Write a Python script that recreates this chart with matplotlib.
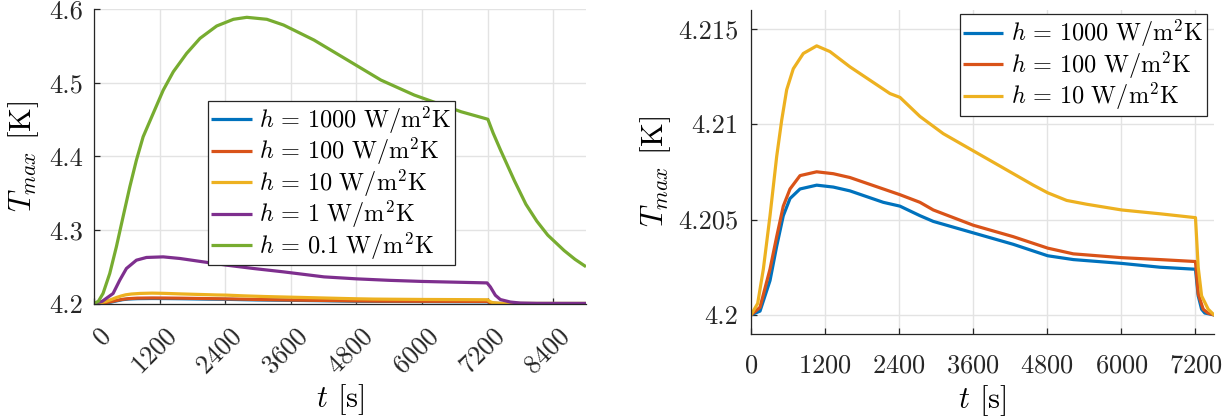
import matplotlib
matplotlib.use("Agg")
import matplotlib.pyplot as plt
from matplotlib.transforms import ScaledTranslation

# ---- data -------------------------------------------------------------
# h = 1000 W/m^2K
t_1000 = [0, 146, 308, 416, 523, 632, 794, 1064, 1333, 1603, 2143, 2413,
          2737, 2953, 3600, 4248, 4806, 5221, 6004, 6624, 7163, 7200, 7244,
          7299, 7350, 7500, 9000]
T_1000 = [4.2, 4.2002, 4.2018, 4.2036, 4.2052, 4.2061, 4.2066, 4.2068,
          4.2067, 4.2065, 4.2059, 4.2057, 4.2052, 4.2049, 4.2043, 4.2037,
          4.2031, 4.2029, 4.2027, 4.2025, 4.2024, 4.2024, 4.2010, 4.2003,
          4.2001, 4.2, 4.2]

# h = 100 W/m^2K
t_100 = [0, 146, 308, 416, 523, 632, 794, 1064, 1333, 1603, 2143, 2413,
         2737, 2953, 3600, 4248, 4806, 5221, 6004, 6624, 7190, 7200, 7244,
         7325, 7400, 7500, 9000]
T_100 = [4.2, 4.2004, 4.2024, 4.2041, 4.2057, 4.2066, 4.2073, 4.2075,
         4.2074, 4.2072, 4.2066, 4.2063, 4.2059, 4.2055, 4.2047, 4.2041,
         4.2035, 4.2032, 4.2030, 4.2029, 4.2028, 4.2028, 4.2011, 4.2003,
         4.2001, 4.2, 4.2]

# h = 10 W/m^2K
t_10 = [0, 108, 200, 308, 416, 497, 578, 685, 847, 1064, 1279, 1603, 1927,
        2251, 2413, 2737, 3114, 3600, 3925, 4303, 4573, 4806, 5113, 5437,
        6004, 6624, 7190, 7200, 7244, 7299, 7406, 7500, 9000]
T_10 = [4.2, 4.2006, 4.2024, 4.2052, 4.2083, 4.2102, 4.2118, 4.2129,
        4.2137, 4.2141, 4.2138, 4.2130, 4.2123, 4.2116, 4.2114, 4.2104,
        4.2095, 4.2086, 4.2080, 4.2073, 4.2068, 4.2064, 4.2060, 4.2058,
        4.2055, 4.2053, 4.2051, 4.2051, 4.2025, 4.2010, 4.2003, 4.2, 4.2]

# h = 1 W/m^2K
t_1 = [0, 150, 349, 471, 593, 776, 960, 1266, 1572, 2000, 2428, 2917,
       3468, 4207, 4805, 5400, 6000, 6600, 7190, 7250, 7342, 7433, 7616,
       7800, 8100, 9000]
T_1 = [4.2, 4.203, 4.2136, 4.2317, 4.2476, 4.2589, 4.2626, 4.2634, 4.2612,
       4.2566, 4.2521, 4.2476, 4.2430, 4.2362, 4.2335, 4.2315, 4.2300,
       4.2290, 4.2280, 4.2226, 4.2112, 4.2054, 4.2020, 4.2006, 4.2001, 4.2]

# h = 0.1 W/m^2K
t_01 = [0, 80, 165, 288, 409, 532, 655, 776, 899, 1083, 1266, 1450, 1694,
        1939, 2244, 2550, 2795, 3162, 3468, 4024, 4637, 5248, 5858, 6288,
        6716, 7205, 7300, 7440, 7690, 7900, 8100, 8300, 8600, 8800, 9000]
T_01 = [4.2, 4.203, 4.2136, 4.2408, 4.277, 4.318, 4.3586, 4.395, 4.4267,
        4.4585, 4.490, 4.515, 4.540, 4.5605, 4.5773, 4.5864, 4.5891, 4.5864,
        4.5786, 4.5582, 4.531, 4.5038, 4.4834, 4.472, 4.4607, 4.4505, 4.432,
        4.408, 4.367, 4.335, 4.312, 4.293, 4.272, 4.260, 4.250]

labels = [r'$h\,=\,1000~\mathrm{W/m^2K}$', r'$h\,=\,100~\mathrm{W/m^2K}$',
          r'$h\,=\,10~\mathrm{W/m^2K}$', r'$h\,=\,1~\mathrm{W/m^2K}$',
          r'$h\,=\,0.1~\mathrm{W/m^2K}$']
colors = ['#0072BD', '#D95319', '#EDB120', '#7E2F8E', '#77AC30']

xticks_left = [0, 1200, 2400, 3600, 4800, 6000, 7200, 8400]
yticks_left = [4.2, 4.3, 4.4, 4.5, 4.6]
yticklabels_left = ['4.2', '4.3', '4.4', '4.5', '4.6']
xticks_right = [0, 1200, 2400, 3600, 4800, 6000, 7200]
yticks_right = [4.2, 4.205, 4.21, 4.215]
yticklabels_right = ['4.2', '4.205', '4.21', '4.215']

# ---- style ------------------------------------------------------------
plt.rcParams.update({
    'font.family': 'serif',
    'font.serif': ['cmr10'],
    'mathtext.fontset': 'cm',
    'axes.formatter.use_mathtext': True,
    'axes.unicode_minus': False,
})
axis_col = '#262626'
grid_col = '#e3e3e3'
lw = 2.3
tick_fs = 19
leg_fs = 17.5
lab_fs = 22

fig = plt.figure(figsize=(12.32, 4.19), dpi=100)
W, H = 1232, 419
axL = fig.add_axes([94 / W, (H - 303.5) / H, (586 - 94) / W, (303.5 - 9.3) / H])
axR = fig.add_axes([751 / W, (H - 334) / H, (1214 - 751) / W, (334 - 9.6) / H])


def style(ax):
    for s in ('top', 'right'):
        ax.spines[s].set_visible(False)
    for s in ('left', 'bottom'):
        ax.spines[s].set_color(axis_col)
        ax.spines[s].set_linewidth(0.9)
    ax.grid(True, color=grid_col, linewidth=1.0)
    ax.set_axisbelow(True)
    ax.tick_params(direction='in', length=4, width=0.9, color=axis_col,
                   labelcolor=axis_col, labelsize=tick_fs)


def legend(ax, anchor):
    leg = ax.legend(loc='upper left', bbox_to_anchor=anchor, borderaxespad=0,
                    fontsize=leg_fs, frameon=True, fancybox=False,
                    edgecolor=axis_col, framealpha=1, handlelength=1.65,
                    handletextpad=0.3, labelspacing=0.0, borderpad=0.14)
    leg.get_frame().set_linewidth(0.9)
    return leg


# ---- left panel -------------------------------------------------------
series_left = [(t_1000, T_1000), (t_100, T_100), (t_10, T_10), (t_1, T_1),
               (t_01, T_01)]
for (tt, TT), c, lab in zip(series_left, colors, labels):
    axL.plot(tt, TT, color=c, lw=lw, label=lab, solid_capstyle='butt')
style(axL)
axL.set_xlim(0, 9000)
axL.set_ylim(4.2, 4.6)
axL.set_xticks(xticks_left)
axL.set_yticks(yticks_left, yticklabels_left)
axL.tick_params(axis='y', pad=8)
axL.tick_params(axis='x', pad=15)
shift = ScaledTranslation(0.05, 0, fig.dpi_scale_trans)
for lbl in axL.get_xticklabels():
    lbl.set_rotation(45)
    lbl.set_ha('right')
    lbl.set_va('top')
    lbl.set_rotation_mode('anchor')
    lbl.set_transform(lbl.get_transform() + shift)
axL.set_xlabel(r'$t$ [s]', fontsize=lab_fs)
axL.xaxis.set_label_coords(0.5, -0.268)
axL.set_ylabel(r'$T_{max}$ [K]', fontsize=lab_fs)
axL.yaxis.set_label_coords(-0.108, 0.5)
legend(axL, (0.2317, 0.69))

# ---- right panel ------------------------------------------------------
series_right = [(t_1000, T_1000), (t_100, T_100), (t_10, T_10)]
for (tt, TT), c, lab in zip(series_right, colors[:3], labels[:3]):
    axR.plot(tt, TT, color=c, lw=lw, label=lab, solid_capstyle='butt')
style(axR)
axR.set_xlim(0, 7500)
axR.set_ylim(4.199, 4.216)
axR.set_xticks(xticks_right)
axR.set_yticks(yticks_right, yticklabels_right)
axR.tick_params(axis='y', pad=9)
axR.tick_params(axis='x', pad=14)
axR.set_xlabel(r'$t$ [s]', fontsize=lab_fs)
axR.xaxis.set_label_coords(0.5, -0.152)
axR.set_ylabel(r'$T_{max}$ [K]', fontsize=lab_fs)
axR.yaxis.set_label_coords(-0.168, 0.5)
legend(axR, (0.451, 0.986))

fig.savefig('out.png', dpi=100)
